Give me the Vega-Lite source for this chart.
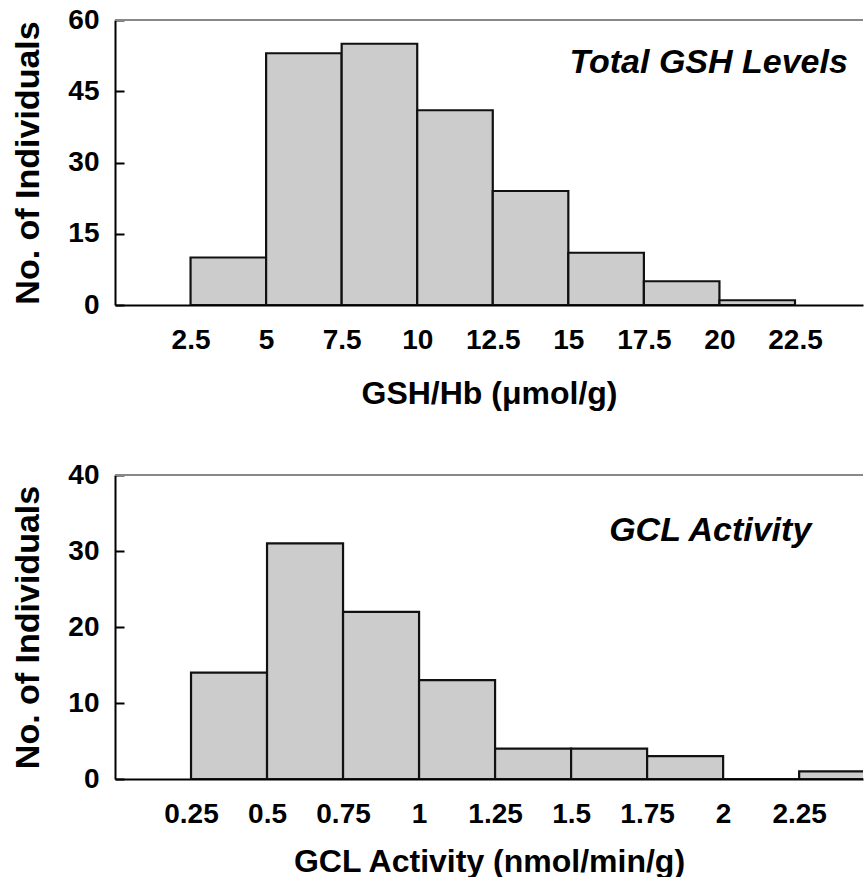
{
  "$schema": "https://vega.github.io/schema/vega-lite/v6.json",
  "padding": {"left": 11, "top": 6, "right": 0, "bottom": 0},
  "background": "white",
  "spacing": 52,
  "config": {
    "view": {"stroke": null},
    "font": "Liberation Sans",
    "axis": {
      "labelFont": "Liberation Sans",
      "labelFontWeight": "bold",
      "labelFontSize": 28,
      "labelColor": "black",
      "titleFont": "Liberation Sans",
      "titleFontWeight": "bold",
      "titleFontSize": 32,
      "titleColor": "black",
      "domainColor": "black",
      "domainWidth": 2,
      "grid": false
    }
  },
  "vconcat": [
    {
      "width": 748,
      "height": 285,
      "data": {
        "values": [
          {"bin_start": 2.5, "bin_end": 5, "count": 10},
          {"bin_start": 5, "bin_end": 7.5, "count": 53},
          {"bin_start": 7.5, "bin_end": 10, "count": 55},
          {"bin_start": 10, "bin_end": 12.5, "count": 41},
          {"bin_start": 12.5, "bin_end": 15, "count": 24},
          {"bin_start": 15, "bin_end": 17.5, "count": 11},
          {"bin_start": 17.5, "bin_end": 20, "count": 5},
          {"bin_start": 20, "bin_end": 22.5, "count": 1}
        ]
      },
      "layer": [
        {
          "mark": {"type": "bar", "fill": "#cccccc", "stroke": "#111111", "strokeWidth": 2.2, "clip": true},
          "encoding": {
            "x": {
              "field": "bin_start",
              "type": "quantitative",
              "scale": {"domain": [0, 24.75], "nice": false, "zero": false},
              "axis": {
                "values": [2.5, 5, 7.5, 10, 12.5, 15, 17.5, 20, 22.5],
                "format": ".4~g",
                "ticks": false,
                "labelPadding": 21,
                "labelFlush": false,
                "labelOverlap": false,
                "title": "GSH/Hb (μmol/g)",
                "titlePadding": 24
              }
            },
            "x2": {"field": "bin_end"},
            "y": {
              "field": "count",
              "type": "quantitative",
              "scale": {"domain": [0, 60], "nice": false},
              "axis": {
                "values": [0, 15, 30, 45, 60],
                "tickSize": -9,
                "tickColor": "black",
                "tickWidth": 2,
                "labelPadding": 25,
                "title": "No. of Individuals",
                "titleFontSize": 34,
                "titlePadding": 22
              }
            },
            "y2": {"datum": 0}
          }
        },
        {
          "mark": {"type": "rule", "color": "#888888", "strokeWidth": 1.5},
          "encoding": {"y": {"datum": 60}}
        },
        {
          "data": {"values": [{"label": "Total GSH Levels", "x": 24.25, "y": 51}]},
          "mark": {"type": "text", "align": "right", "baseline": "middle", "fontSize": 34, "fontWeight": "bold", "fontStyle": "italic", "font": "Liberation Sans", "color": "black"},
          "encoding": {
            "x": {"field": "x", "type": "quantitative", "title": "GSH/Hb (μmol/g)"},
            "y": {"field": "y", "type": "quantitative", "title": "No. of Individuals"},
            "text": {"field": "label"}
          }
        }
      ]
    },
    {
      "width": 748,
      "height": 304,
      "data": {
        "values": [
          {"bin_start": 0.25, "bin_end": 0.5, "count": 14},
          {"bin_start": 0.5, "bin_end": 0.75, "count": 31},
          {"bin_start": 0.75, "bin_end": 1, "count": 22},
          {"bin_start": 1, "bin_end": 1.25, "count": 13},
          {"bin_start": 1.25, "bin_end": 1.5, "count": 4},
          {"bin_start": 1.5, "bin_end": 1.75, "count": 4},
          {"bin_start": 1.75, "bin_end": 2, "count": 3},
          {"bin_start": 2, "bin_end": 2.25, "count": 0},
          {"bin_start": 2.25, "bin_end": 2.5, "count": 1}
        ]
      },
      "layer": [
        {
          "mark": {"type": "bar", "fill": "#cccccc", "stroke": "#111111", "strokeWidth": 2.2, "clip": true},
          "encoding": {
            "x": {
              "field": "bin_start",
              "type": "quantitative",
              "scale": {"domain": [0, 2.46], "nice": false, "zero": false},
              "axis": {
                "values": [0.25, 0.5, 0.75, 1, 1.25, 1.5, 1.75, 2, 2.25],
                "format": ".4~g",
                "ticks": false,
                "labelPadding": 21,
                "labelFlush": false,
                "labelOverlap": false,
                "title": "GCL Activity (nmol/min/g)",
                "titlePadding": 18
              }
            },
            "x2": {"field": "bin_end"},
            "y": {
              "field": "count",
              "type": "quantitative",
              "scale": {"domain": [0, 40], "nice": false},
              "axis": {
                "values": [0, 10, 20, 30, 40],
                "tickSize": -9,
                "tickColor": "black",
                "tickWidth": 2,
                "labelPadding": 25,
                "title": "No. of Individuals",
                "titleFontSize": 34,
                "titlePadding": 22
              }
            },
            "y2": {"datum": 0}
          }
        },
        {
          "mark": {"type": "rule", "color": "#888888", "strokeWidth": 1.5},
          "encoding": {"y": {"datum": 40}}
        },
        {
          "data": {"values": [{"label": "GCL Activity", "x": 2.29, "y": 32.6}]},
          "mark": {"type": "text", "align": "right", "baseline": "middle", "fontSize": 34, "fontWeight": "bold", "fontStyle": "italic", "font": "Liberation Sans", "color": "black"},
          "encoding": {
            "x": {"field": "x", "type": "quantitative", "title": "GCL Activity (nmol/min/g)"},
            "y": {"field": "y", "type": "quantitative", "title": "No. of Individuals"},
            "text": {"field": "label"}
          }
        }
      ]
    }
  ]
}
